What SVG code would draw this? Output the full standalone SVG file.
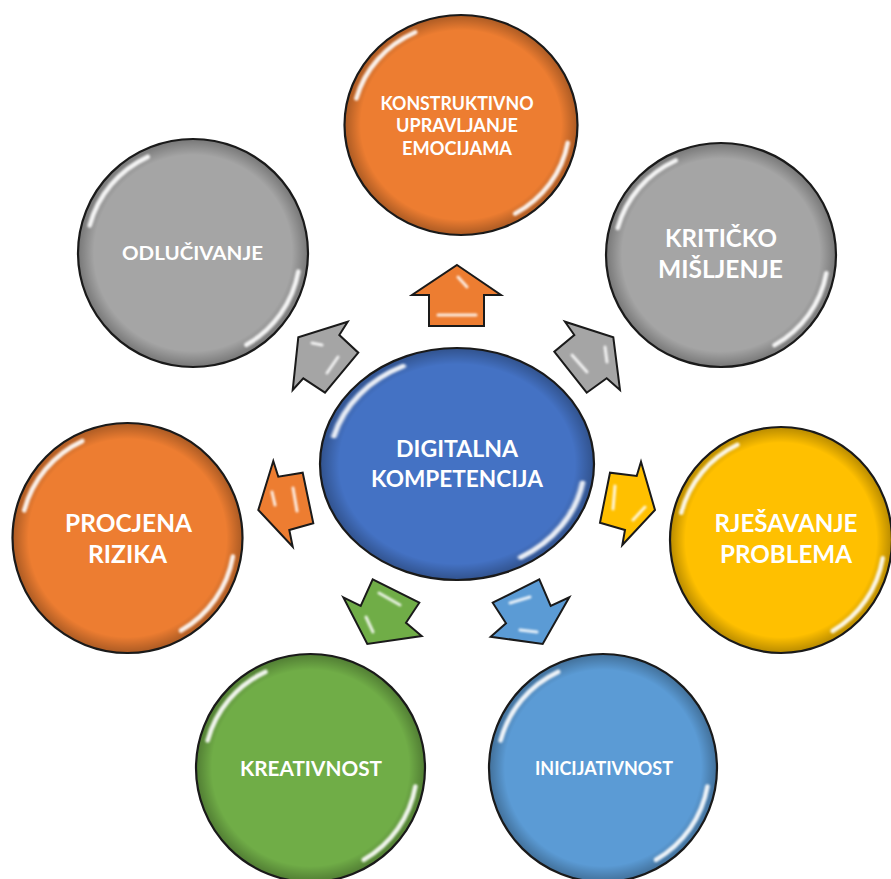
<svg xmlns="http://www.w3.org/2000/svg" xmlns:xlink="http://www.w3.org/1999/xlink" width="891" height="879" viewBox="0 0 891 879">
<style>
  .outline { fill: none; stroke: #1a1a1a; stroke-width: 2.2; }
  .shade { fill: url(#edgeShade); }
  .hl { fill: none; stroke: #ffffff; stroke-width: 4; stroke-linecap: round; opacity: 0.9; filter: url(#soft); }
  .ahl { fill: none; stroke: #ffffff; stroke-width: 3; stroke-linecap: round; opacity: 0.85; filter: url(#soft); }
  .arrow { stroke: #1a1a1a; stroke-width: 2; stroke-linejoin: miter; }
  .t { fill: #ffffff; font-family: Lato, "Open Sans", "Liberation Sans", sans-serif; font-weight: bold; text-anchor: middle; }
  .orange { fill: #ED7D31; }
  .gray { fill: #A5A5A5; }
  .blue { fill: #4472C4; }
  .yellow { fill: #FFC000; }
  .green { fill: #70AD47; }
  .lblue { fill: #5B9BD5; }
</style>
<defs>
  <radialGradient id="edgeShade" cx="0.5" cy="0.5" r="0.5">
    <stop offset="0.86" stop-color="#000" stop-opacity="0"/>
    <stop offset="1" stop-color="#000" stop-opacity="0.28"/>
  </radialGradient>
  <filter id="soft" x="-30%" y="-30%" width="160%" height="160%">
    <feGaussianBlur stdDeviation="1.1"/>
  </filter>
  <path id="hlA" d="M -89.8 -24.1 A 93 93 0 0 1 -39.3 -84.3"/>
  <path id="hlB" d="M 91.6 16.2 A 93 93 0 0 1 46.5 80.5"/>
</defs>

<g id="connectors">
  <g id="arrow-top">
    <polygon class="arrow orange" points="457,265 501,295 484,295 484,326 429,326 429,295 412,295"/>
    <path class="ahl" d="M 458 277 L 467 287 M 438 315 L 476 315"/>
  </g>
  <g id="arrow-upper-left">
    <polygon class="arrow gray" points="347.7,321.7 298.3,337.3 292.7,390 303.3,378.3 325,392.7 358.3,352.7 339.3,335"/>
    <path class="ahl" d="M 312 343 L 322 345 M 327 373 L 338 357"/>
  </g>
  <g id="arrow-upper-right">
    <polygon class="arrow gray" points="565,321.7 574.3,335 554.3,351.7 586.7,392.7 606.7,378.3 620,390 613.3,337.3"/>
    <path class="ahl" d="M 572 355 L 587 372 M 605 347 L 607 362"/>
  </g>
  <g id="arrow-left">
    <polygon class="arrow orange" points="273.3,461 258.3,510 292.7,546.7 289.3,530 313.3,523.3 302.7,472.7 278.3,476.7"/>
    <path class="ahl" d="M 272 492 L 275 505 M 293 488 L 297 511"/>
  </g>
  <g id="arrow-right">
    <polygon class="arrow yellow" points="641,461.7 655,510 622.3,545 625,530 600,522.7 610,472.7 636.7,476"/>
    <path class="ahl" d="M 615 486 L 613 509 M 645 507 L 633 520"/>
  </g>
  <g id="arrow-lower-left">
    <polygon class="arrow green" points="343.3,597.3 360.7,606 372.7,579.3 419.3,602.7 406,622.7 421.7,636 367.3,644"/>
    <path class="ahl" d="M 379 593 L 400 605 M 366 617 L 373 632"/>
  </g>
  <g id="arrow-lower-right">
    <polygon class="arrow lblue" points="492.7,602.7 539.3,579.3 550.7,606 569.3,597.3 542.7,644 490.7,636.7 506,623.3"/>
    <path class="ahl" d="M 510 603 L 530 597 M 520 630 L 537 632"/>
  </g>
</g>

<g id="node-konstruktivno">
  <ellipse class="orange" cx="461" cy="125" rx="116.5" ry="110"/>
  <ellipse class="shade" cx="461" cy="125" rx="116.5" ry="110"/>
  <g transform="translate(461 125) scale(1.165 1.10)"><use xlink:href="#hlA" class="hl"/><use xlink:href="#hlB" class="hl"/></g>
  <ellipse class="outline" cx="461" cy="125" rx="116.5" ry="110"/>
  <text class="t" font-size="18.5" x="457" y="110" textLength="153" lengthAdjust="spacingAndGlyphs">KONSTRUKTIVNO</text>
  <text class="t" font-size="18.5" x="457" y="132" textLength="122" lengthAdjust="spacingAndGlyphs">UPRAVLJANJE</text>
  <text class="t" font-size="18.5" x="457" y="155" textLength="110" lengthAdjust="spacingAndGlyphs">EMOCIJAMA</text>
</g>

<g id="node-odlucivanje">
  <ellipse class="gray" cx="193" cy="253" rx="115" ry="114"/>
  <ellipse class="shade" cx="193" cy="253" rx="115" ry="114"/>
  <g transform="translate(193 253) scale(1.15 1.14)"><use xlink:href="#hlA" class="hl"/><use xlink:href="#hlB" class="hl"/></g>
  <ellipse class="outline" cx="193" cy="253" rx="115" ry="114"/>
  <text class="t" font-size="18.5" x="192.5" y="260" textLength="141" lengthAdjust="spacingAndGlyphs">ODLUČIVANJE</text>
</g>

<g id="node-kriticko">
  <ellipse class="gray" cx="721" cy="255" rx="115" ry="112"/>
  <ellipse class="shade" cx="721" cy="255" rx="115" ry="112"/>
  <g transform="translate(721 255) scale(1.15 1.12)"><use xlink:href="#hlA" class="hl"/><use xlink:href="#hlB" class="hl"/></g>
  <ellipse class="outline" cx="721" cy="255" rx="115" ry="112"/>
  <text class="t" font-size="24" x="721" y="247" textLength="112" lengthAdjust="spacingAndGlyphs">KRITIČKO</text>
  <text class="t" font-size="24" x="720.5" y="278" textLength="125" lengthAdjust="spacingAndGlyphs">MIŠLJENJE</text>
</g>

<g id="node-digitalna">
  <ellipse class="blue" cx="457" cy="464" rx="137" ry="116"/>
  <ellipse class="shade" cx="457" cy="464" rx="137" ry="116"/>
  <g transform="translate(457 464) scale(1.37 1.16)"><use xlink:href="#hlA" class="hl"/><use xlink:href="#hlB" class="hl"/></g>
  <ellipse class="outline" cx="457" cy="464" rx="137" ry="116"/>
  <text class="t" font-size="22" x="457" y="457" textLength="122" lengthAdjust="spacingAndGlyphs">DIGITALNA</text>
  <text class="t" font-size="22" x="457" y="487" textLength="172" lengthAdjust="spacingAndGlyphs">KOMPETENCIJA</text>
</g>

<g id="node-procjena">
  <ellipse class="orange" cx="127.5" cy="538" rx="115" ry="115"/>
  <ellipse class="shade" cx="127.5" cy="538" rx="115" ry="115"/>
  <g transform="translate(127.5 538) scale(1.15 1.15)"><use xlink:href="#hlA" class="hl"/><use xlink:href="#hlB" class="hl"/></g>
  <ellipse class="outline" cx="127.5" cy="538" rx="115" ry="115"/>
  <text class="t" font-size="24.5" x="128.5" y="532" textLength="127" lengthAdjust="spacingAndGlyphs">PROCJENA</text>
  <text class="t" font-size="24.5" x="127.5" y="563" textLength="79" lengthAdjust="spacingAndGlyphs">RIZIKA</text>
</g>

<g id="node-rjesavanje">
  <ellipse class="yellow" cx="781" cy="540" rx="111" ry="113"/>
  <ellipse class="shade" cx="781" cy="540" rx="111" ry="113"/>
  <g transform="translate(781 540) scale(1.11 1.13)"><use xlink:href="#hlA" class="hl"/><use xlink:href="#hlB" class="hl"/></g>
  <ellipse class="outline" cx="781" cy="540" rx="111" ry="113"/>
  <text class="t" font-size="24.5" x="786" y="532" textLength="143" lengthAdjust="spacingAndGlyphs">RJEŠAVANJE</text>
  <text class="t" font-size="24.5" x="786" y="563" textLength="132" lengthAdjust="spacingAndGlyphs">PROBLEMA</text>
</g>

<g id="node-kreativnost">
  <ellipse class="green" cx="310.5" cy="768" rx="114.5" ry="114"/>
  <ellipse class="shade" cx="310.5" cy="768" rx="114.5" ry="114"/>
  <g transform="translate(310.5 768) scale(1.145 1.14)"><use xlink:href="#hlA" class="hl"/><use xlink:href="#hlB" class="hl"/></g>
  <ellipse class="outline" cx="310.5" cy="768" rx="114.5" ry="114"/>
  <text class="t" font-size="21" x="311" y="776" textLength="142" lengthAdjust="spacingAndGlyphs">KREATIVNOST</text>
</g>

<g id="node-inicijativnost">
  <ellipse class="lblue" cx="603" cy="768" rx="114" ry="114"/>
  <ellipse class="shade" cx="603" cy="768" rx="114" ry="114"/>
  <g transform="translate(603 768) scale(1.14 1.14)"><use xlink:href="#hlA" class="hl"/><use xlink:href="#hlB" class="hl"/></g>
  <ellipse class="outline" cx="603" cy="768" rx="114" ry="114"/>
  <text class="t" font-size="18.5" x="604" y="775" textLength="138" lengthAdjust="spacingAndGlyphs">INICIJATIVNOST</text>
</g>
</svg>
